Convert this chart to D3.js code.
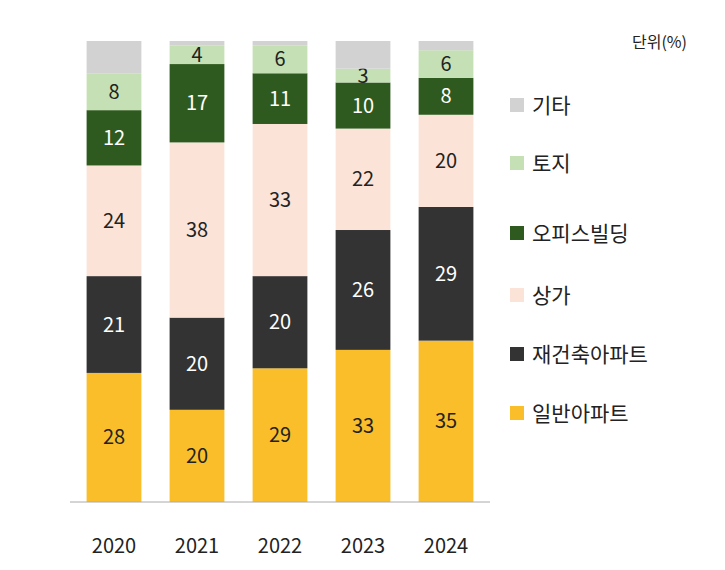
<!DOCTYPE html>
<html><head><meta charset="utf-8">
<script src="https://cdn.jsdelivr.net/npm/d3@7"></script>
<style>body{margin:0;background:#fff;font-family:"Noto Sans CJK KR","Noto Sans",sans-serif}</style>
</head><body><svg id="c" width="725" height="570"></svg>
<script>
const years = ['2020', '2021', '2022', '2023', '2024'];
const series = ['일반아파트', '재건축아파트', '상가', '오피스빌딩', '토지', '기타'];
const apt = [28, 20, 29, 33, 35];
const rebuild = [21, 20, 20, 26, 29];
const shop = [24, 38, 33, 22, 20];
const office = [12, 17, 11, 10, 8];
const land = [8, 4, 6, 3, 6];
const other = [7, 1, 1, 6, 2];
const colors = ['#F9BE2A', '#333333', '#FBE3D8', '#2F5A1F', '#C5E0B4', '#D2D2D2'];
const textCol = ['#222', '#fff', '#222', '#fff', '#222', '#222'];

const values = [apt, rebuild, shop, office, land, other];
const rows = years.map((y, i) => {
  const r = {year: y};
  series.forEach((s, k) => r[s] = values[k][i]);
  return r;
});
const stack = d3.stack().keys(series)(rows);

const svg = d3.select('#c');
const x = d3.scaleBand().domain(years).range([70, 490]).paddingInner(0.34).paddingOuter(0.2);
const y = d3.scaleLinear().domain([0, 100]).range([502, 41]);

stack.forEach((layer, k) => {
  const g = svg.append('g');
  g.selectAll('rect').data(layer).enter().append('rect')
    .attr('x', d => x(d.data.year))
    .attr('width', x.bandwidth())
    .attr('y', d => y(d[1]))
    .attr('height', d => y(d[0]) - y(d[1]))
    .attr('fill', colors[k]);
  if (k < 5) {
    g.selectAll('text').data(layer).enter().append('text')
      .attr('x', d => x(d.data.year) + x.bandwidth() / 2)
      .attr('y', d => (y(d[0]) + y(d[1])) / 2 + 7)
      .attr('text-anchor', 'middle')
      .attr('font-size', 20)
      .attr('fill', textCol[k])
      .text(d => d[1] - d[0]);
  }
});

svg.append('line').attr('x1', 70).attr('x2', 490).attr('y1', 502).attr('y2', 502)
  .attr('stroke', '#aaa');
svg.append('g').selectAll('text').data(years).enter().append('text')
  .attr('x', d => x(d) + x.bandwidth() / 2).attr('y', 553)
  .attr('text-anchor', 'middle').attr('font-size', 20).attr('fill', '#222')
  .text(d => d);

const legY = [105, 163, 233, 295, 354, 413];
const leg = svg.append('g');
series.slice().reverse().forEach((s, i) => {
  const k = series.length - 1 - i;
  leg.append('rect').attr('x', 510).attr('y', legY[i] - 7).attr('width', 14).attr('height', 14)
    .attr('fill', colors[k]);
  leg.append('text').attr('x', 532).attr('y', legY[i] + 8).attr('font-size', 21)
    .attr('fill', '#222').text(s);
});
svg.append('text').attr('x', 632).attr('y', 48).attr('font-size', 16).attr('fill', '#222').text('단위(%)');
</script></body></html>
